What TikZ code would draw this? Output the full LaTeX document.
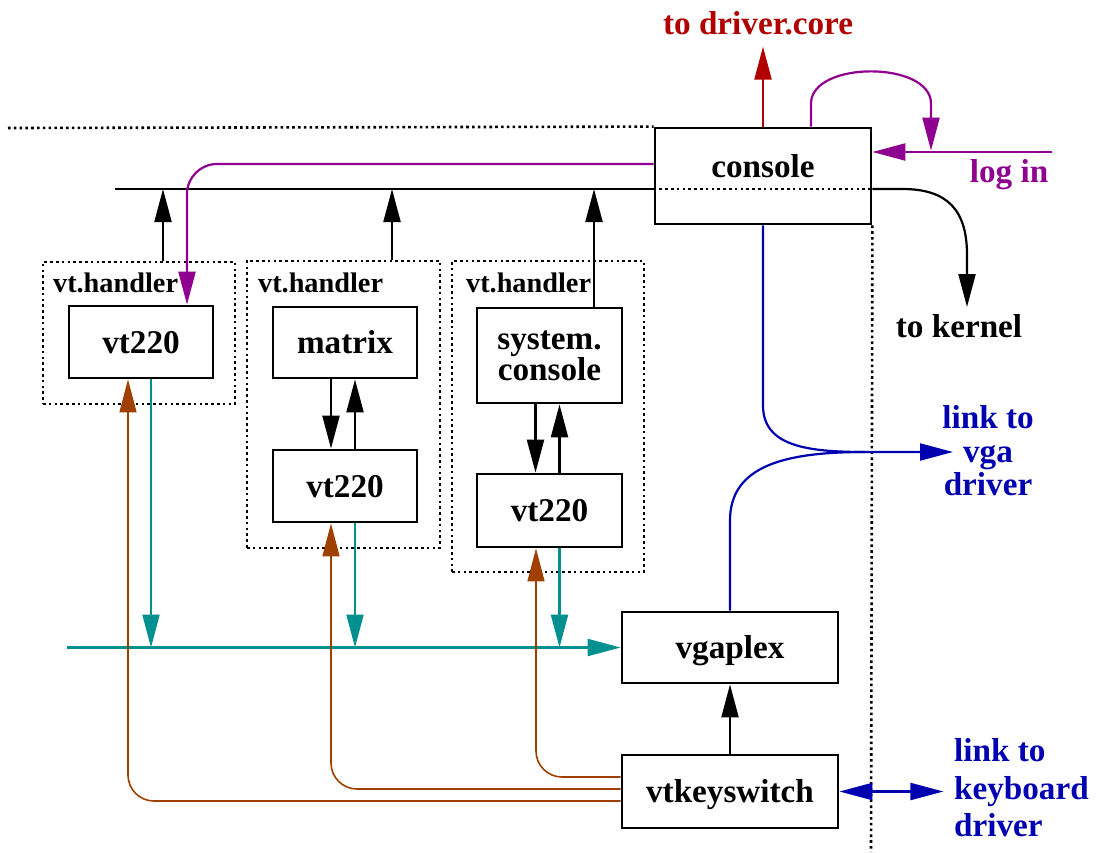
\documentclass[tikz,border=0pt]{standalone}
\usepackage{fontspec}
\setmainfont{Liberation Serif}
\usetikzlibrary{arrows.meta,calc}

\definecolor{coreRed}{RGB}{176,0,0}
\definecolor{loginViolet}{RGB}{144,0,144}
\definecolor{linkBlue}{RGB}{0,0,176}
\definecolor{plexTeal}{RGB}{0,144,144}
\definecolor{keyBrown}{RGB}{160,64,0}

\begin{document}
\begin{tikzpicture}[x=0.5pt,y=-0.5pt,line width=1.1pt,font=\bfseries\fontsize{16.6}{16.75}\selectfont]
  \tikzstyle{arr} = [-{Triangle[length=16.5pt,width=8.5pt]}]
  \tikzstyle{boxbase} = [draw,line width=1.4pt,inner sep=0pt]
  \tikzstyle{box} = [boxbase,text height=11pt,text depth=0pt]
  \tikzstyle{dots} = [line width=1.3pt,dash pattern=on 1.3pt off 1.6pt]
  \tikzstyle{handler} = [draw,dots,inner sep=0pt]
  \tikzstyle{small} = [font=\bfseries\fontsize{14.15}{16}\selectfont,inner sep=0pt,anchor=base west]
  \tikzstyle{plain} = [inner sep=0pt,anchor=base]
  \useasboundingbox (0,0) rectangle (1096,852);

  % vt.handler groups
  \node [handler,minimum width=96pt,minimum height=71pt] (handA) at (139,333) {};
  \node [handler,minimum width=96.5pt,minimum height=143.5pt] (handB) at (343.5,404.5) {};
  \node [handler,minimum width=96pt,minimum height=155.5pt] (handC) at (548,416.5) {};
  \node [small] (lblA) at (52,292) {vt.handler};
  \node [small] (lblB) at (257,292) {vt.handler};
  \node [small] (lblC) at (465,292) {vt.handler};

  % boxes
  \node [box,minimum width=108pt,minimum height=48pt] (console) at (763,176) {};
  \node [plain] (consoletxt) at (763,177) {console};
  \node [box,minimum width=72pt,minimum height=36pt] (vtA) at (141,342) {vt220};
  \node [box,minimum width=72pt,minimum height=35.5pt] (matrix) at (345,342.5) {matrix};
  \node [box,minimum width=72pt,minimum height=36pt] (vtB) at (345,486) {vt220};
  \node [boxbase,align=center,font=\bfseries\fontsize{16.6}{15.5}\selectfont,minimum width=72.5pt,minimum height=47.5pt] (sysconsole) at (549.5,355.5) {system.\\console};
  \node [box,minimum width=72.5pt,minimum height=36.5pt] (vtC) at (549.5,510.5) {vt220};
  \node [box,minimum width=108pt,minimum height=35.5pt] (vgaplex) at (730,647.5) {vgaplex};
  \node [box,minimum width=108pt,minimum height=36.5pt] (vtkey) at (730,791.5) {vtkeyswitch};

  % outside labels
  \node [plain,coreRed] (drivercore) at (758,34) {to driver.core};
  \node [plain,loginViolet] (login) at (1009,182) {log in};
  \node [plain] (kernel) at (959,337) {to kernel};
  \node [linkBlue,inner sep=0pt,align=center] (vgadrv) at (988,451) {link to\\vga\\driver};
  \node [linkBlue,inner sep=0pt,align=left,anchor=west,font=\bfseries\fontsize{16.6}{18.75}\selectfont] (kbddrv) at (953,788) {link to\\keyboard\\driver};

  % bus and borders
  \coordinate (bus) at (115,189);
  \coordinate (edge) at (8,128);
  \coordinate (floor) at (871,852);
  \draw (bus) -- (bus -| console.west);
  \draw [dots] (bus -| console.west) -- (bus -| console.east);
  \draw [dots] (edge) -- (console.north west);
  \draw [dots] (console.south east) -- (floor);

  \coordinate (upA) at ($(handA.north)+(24,0)$);
  \coordinate (upB) at ($(handB.north)+(48.5,0)$);
  \coordinate (upC) at ($(sysconsole.north)+(44.5,0)$);
  \draw [arr] (upA) -- (upA |- bus);
  \draw [arr] (upB) -- (upB |- bus);
  \draw [arr] (upC) -- (upC |- bus);

  \draw [arr] ($(matrix.south)+(-14,0)$) -- ($(vtB.north)+(-14,0)$);
  \draw [arr] ($(vtB.north)+(10,0)$) -- ($(matrix.south)+(10,0)$);
  \draw [arr] ($(sysconsole.south)+(-14,0)$) -- ($(vtC.north)+(-14,0)$);
  \draw [arr] ($(vtC.north)+(10,0)$) -- ($(sysconsole.south)+(10,0)$);
  \draw [arr] (vtkey) -- (vgaplex);

  \coordinate (kern) at (967,307);
  \draw [arr] (bus -| console.east) -- ++(30,0) .. controls +(45,0) and +(0,-45) .. (967,255) -- (kern);

  % driver.core and log in
  \draw [arr,coreRed] (console.north) -- ++(0,-80);
  \draw [arr,loginViolet] ($(console.north)+(48,0)$) -- ++(0,-23) .. controls +(0,-43) and +(0,-43) .. ++(120,0) -- ++(0,47);
  \coordinate (loginsrc) at (1052,152);
  \draw [arr,loginViolet] (loginsrc) -- (loginsrc -| console.east);
  \coordinate (magA) at ($(vtA.north)+(46,0)$);
  \draw [arr,loginViolet,rounded corners=15pt] ($(console.west)+(0,-12)$) -| (magA);

  % vga and keyboard links
  \coordinate (vgajoin) at (865,452);
  \coordinate (vgatip) at (953,452);
  \draw [arr,linkBlue] (console.south) -- ++(0,180) .. controls +(0,40) and +(-60,0) .. (vgajoin) -- (vgatip);
  \draw [linkBlue] (vgaplex.north) -- ++(0,-90) .. controls +(0,-55) and +(-80,0) .. (vgajoin);
  \draw [linkBlue,{Triangle[length=16.5pt,width=8.5pt]}-{Triangle[length=16.5pt,width=8.5pt]}] (vtkey.east) -- ++(104,0);

  % screen output
  \coordinate (tealsrc) at (67,647.5);
  \draw [arr,plexTeal] (tealsrc) -- (vgaplex.west);
  \coordinate (tA) at ($(vtA.south)+(10,0)$);
  \coordinate (tB) at ($(vtB.south)+(10,0)$);
  \coordinate (tC) at ($(vtC.south)+(10,0)$);
  \draw [arr,plexTeal] (tA) -- (tA |- tealsrc);
  \draw [arr,plexTeal] (tB) -- (tB |- tealsrc);
  \draw [arr,plexTeal] (tC) -- (tC |- tealsrc);

  % keyboard input
  \coordinate (kA) at ($(vtkey.west)+(0,9.5)$);
  \coordinate (kB) at ($(vtkey.west)+(0,-2.5)$);
  \coordinate (kC) at ($(vtkey.west)+(0,-14.5)$);
  \draw [arr,keyBrown,line width=0.8pt,rounded corners=13pt] (kA) -| ($(vtA.south)+(-13,0)$);
  \draw [arr,keyBrown,line width=0.8pt,rounded corners=13pt] (kB) -| ($(vtB.south)+(-14,0)$);
  \draw [arr,keyBrown,line width=0.8pt,rounded corners=13pt] (kC) -| ($(vtC.south)+(-13.5,0)$);
\end{tikzpicture}
\end{document}
